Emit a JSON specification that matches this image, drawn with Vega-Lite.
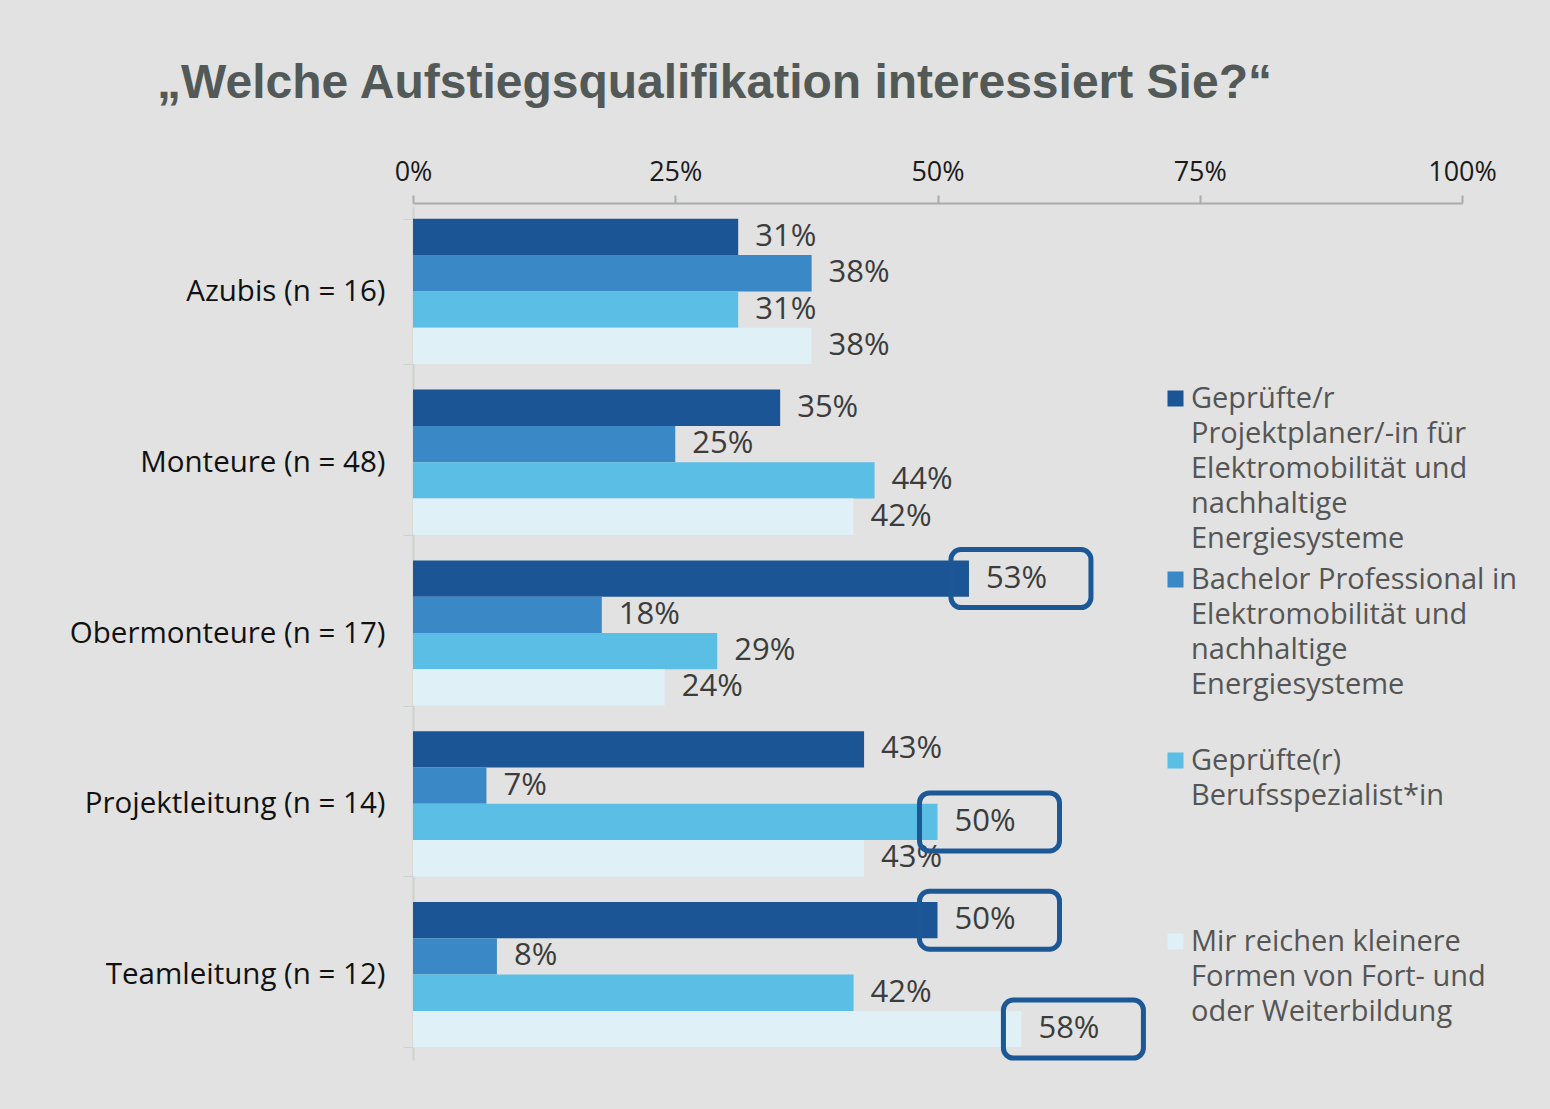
{
  "$schema": "https://vega.github.io/schema/vega-lite/v6.json",
  "width": 1049,
  "height": 854,
  "autosize": {"type": "none"},
  "padding": {"left": 413, "top": 206, "right": 88, "bottom": 49},
  "background": "#e1e2e1",
  "title": {
    "text": "„Welche Aufstiegsqualifikation interessiert Sie?“",
    "anchor": "start",
    "frame": "group",
    "dx": -256,
    "offset": 50,
    "font": "Liberation Sans",
    "fontSize": 48,
    "fontWeight": "bold",
    "color": "#525957"
  },
  "config": {
    "view": {"stroke": null},
    "font": "Open Sans",
    "style": {"guide-label": {"lineHeight": 35}}
  },
  "data": {
    "values": [
      {"Gruppe": "Azubis (n = 16)", "Abschluss": "Geprüfte/r Projektplaner/-in für Elektromobilität und nachhaltige Energiesysteme", "Wert": 0.31, "hervorgehoben": false},
      {"Gruppe": "Azubis (n = 16)", "Abschluss": "Bachelor Professional in Elektromobilität und nachhaltige Energiesysteme", "Wert": 0.38, "hervorgehoben": false},
      {"Gruppe": "Azubis (n = 16)", "Abschluss": "Geprüfte(r) Berufsspezialist*in", "Wert": 0.31, "hervorgehoben": false},
      {"Gruppe": "Azubis (n = 16)", "Abschluss": "Mir reichen kleinere Formen von Fort- und oder Weiterbildung", "Wert": 0.38, "hervorgehoben": false},
      {"Gruppe": "Monteure (n = 48)", "Abschluss": "Geprüfte/r Projektplaner/-in für Elektromobilität und nachhaltige Energiesysteme", "Wert": 0.35, "hervorgehoben": false},
      {"Gruppe": "Monteure (n = 48)", "Abschluss": "Bachelor Professional in Elektromobilität und nachhaltige Energiesysteme", "Wert": 0.25, "hervorgehoben": false},
      {"Gruppe": "Monteure (n = 48)", "Abschluss": "Geprüfte(r) Berufsspezialist*in", "Wert": 0.44, "hervorgehoben": false},
      {"Gruppe": "Monteure (n = 48)", "Abschluss": "Mir reichen kleinere Formen von Fort- und oder Weiterbildung", "Wert": 0.42, "hervorgehoben": false},
      {"Gruppe": "Obermonteure (n = 17)", "Abschluss": "Geprüfte/r Projektplaner/-in für Elektromobilität und nachhaltige Energiesysteme", "Wert": 0.53, "hervorgehoben": true},
      {"Gruppe": "Obermonteure (n = 17)", "Abschluss": "Bachelor Professional in Elektromobilität und nachhaltige Energiesysteme", "Wert": 0.18, "hervorgehoben": false},
      {"Gruppe": "Obermonteure (n = 17)", "Abschluss": "Geprüfte(r) Berufsspezialist*in", "Wert": 0.29, "hervorgehoben": false},
      {"Gruppe": "Obermonteure (n = 17)", "Abschluss": "Mir reichen kleinere Formen von Fort- und oder Weiterbildung", "Wert": 0.24, "hervorgehoben": false},
      {"Gruppe": "Projektleitung (n = 14)", "Abschluss": "Geprüfte/r Projektplaner/-in für Elektromobilität und nachhaltige Energiesysteme", "Wert": 0.43, "hervorgehoben": false},
      {"Gruppe": "Projektleitung (n = 14)", "Abschluss": "Bachelor Professional in Elektromobilität und nachhaltige Energiesysteme", "Wert": 0.07, "hervorgehoben": false},
      {"Gruppe": "Projektleitung (n = 14)", "Abschluss": "Geprüfte(r) Berufsspezialist*in", "Wert": 0.50, "hervorgehoben": true},
      {"Gruppe": "Projektleitung (n = 14)", "Abschluss": "Mir reichen kleinere Formen von Fort- und oder Weiterbildung", "Wert": 0.43, "hervorgehoben": false},
      {"Gruppe": "Teamleitung (n = 12)", "Abschluss": "Geprüfte/r Projektplaner/-in für Elektromobilität und nachhaltige Energiesysteme", "Wert": 0.50, "hervorgehoben": true},
      {"Gruppe": "Teamleitung (n = 12)", "Abschluss": "Bachelor Professional in Elektromobilität und nachhaltige Energiesysteme", "Wert": 0.08, "hervorgehoben": false},
      {"Gruppe": "Teamleitung (n = 12)", "Abschluss": "Geprüfte(r) Berufsspezialist*in", "Wert": 0.42, "hervorgehoben": false},
      {"Gruppe": "Teamleitung (n = 12)", "Abschluss": "Mir reichen kleinere Formen von Fort- und oder Weiterbildung", "Wert": 0.58, "hervorgehoben": true}
    ]
  },
  "encoding": {
    "y": {
      "field": "Gruppe",
      "type": "nominal",
      "sort": null,
      "scale": {"paddingInner": 0.15, "paddingOuter": 0.075},
      "axis": {
        "title": null,
        "labelFontSize": 29.5,
        "labelLimit": 400,
        "labelColor": "#111111",
        "labelPadding": 18,
        "tickSize": 10,
        "tickBand": "extent",
        "tickColor": "#cfd1cf",
        "domainColor": "#cfd1cf",
        "domainWidth": 2
      }
    },
    "yOffset": {
      "field": "Abschluss",
      "type": "nominal",
      "sort": null,
      "scale": {"paddingInner": 0, "paddingOuter": 0}
    }
  },
  "layer": [
    {
      "mark": {"type": "bar"},
      "encoding": {
        "x": {
          "field": "Wert",
          "type": "quantitative",
          "scale": {"domain": [0, 1]},
          "axis": {
            "orient": "top",
            "title": null,
            "offset": 3,
            "values": [0, 0.25, 0.5, 0.75, 1],
            "format": ".0%",
            "grid": false,
            "labelFlush": false,
            "labelBound": false,
            "labelOverlap": false,
            "labelFontSize": 27,
            "labelColor": "#1a1a1a",
            "labelPadding": 9,
            "tickSize": 8,
            "tickColor": "#a9acab",
            "domainColor": "#a9acab",
            "domainWidth": 2,
            "tickWidth": 2
          }
        },
        "color": {
          "field": "Abschluss",
          "type": "nominal",
          "sort": null,
          "scale": {
            "domain": [
              "Geprüfte/r Projektplaner/-in für Elektromobilität und nachhaltige Energiesysteme",
              "Bachelor Professional in Elektromobilität und nachhaltige Energiesysteme",
              "Geprüfte(r) Berufsspezialist*in",
              "Mir reichen kleinere Formen von Fort- und oder Weiterbildung"
            ],
            "range": ["#1b5595", "#3a88c6", "#5bbee4", "#dff0f7"]
          },
          "legend": {
            "title": null,
            "orient": "none",
            "legendX": 748,
            "legendY": 178,
            "symbolType": "square",
            "symbolSize": 256,
            "symbolStrokeWidth": 0,
            "labelFontSize": 29,
            "labelColor": "#555555",
            "labelLimit": 400,
            "labelOffset": 1,
            "gridAlign": "all",
            "rowPadding": 11,
            "labelExpr": "datum.label == 'Geprüfte/r Projektplaner/-in für Elektromobilität und nachhaltige Energiesysteme' ? ['Geprüfte/r', 'Projektplaner/-in für', 'Elektromobilität und', 'nachhaltige', 'Energiesysteme'] : datum.label == 'Bachelor Professional in Elektromobilität und nachhaltige Energiesysteme' ? ['Bachelor Professional in', 'Elektromobilität und', 'nachhaltige', 'Energiesysteme'] : datum.label == 'Geprüfte(r) Berufsspezialist*in' ? ['Geprüfte(r)', 'Berufsspezialist*in'] : ['Mir reichen kleinere', 'Formen von Fort- und', 'oder Weiterbildung']"
          }
        }
      }
    },
    {
      "mark": {"type": "text", "align": "left", "baseline": "middle", "dx": 17, "fontSize": 31, "color": "#3c3c3c"},
      "encoding": {
        "x": {"field": "Wert", "type": "quantitative"},
        "text": {"field": "Wert", "type": "quantitative", "format": ".0%"}
      }
    },
    {
      "transform": [{"filter": "datum.hervorgehoben"}],
      "mark": {"type": "rect", "filled": false, "stroke": "#1c5796", "strokeWidth": 5, "cornerRadius": 10, "xOffset": -18, "x2Offset": 122, "height": 58},
      "encoding": {
        "x": {"field": "Wert", "type": "quantitative"},
        "x2": {"field": "Wert"}
      }
    }
  ]
}
